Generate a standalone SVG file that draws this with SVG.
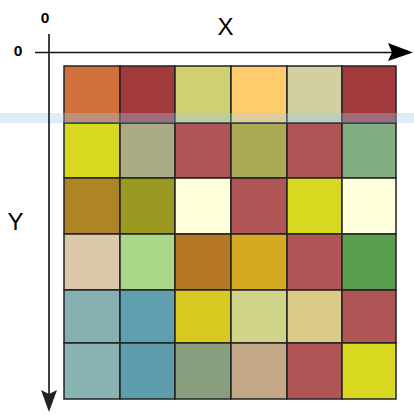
<svg xmlns="http://www.w3.org/2000/svg" width="414" height="415" viewBox="0 0 414 415">
<style>
.lbl{font-family:"Liberation Sans",Arial,sans-serif;fill:#000}
.zero{font-size:15.5px;font-weight:bold}
.axl{font-size:24px}
.axis{stroke:#111;stroke-width:1.6;fill:none}
.cell{stroke:#222;stroke-width:1.5}
</style>
<rect width="414" height="415" fill="#fff"/>
<g id="grid">
<g id="row1">
<rect class="cell" x="64" y="66" width="56" height="57" fill="#D2703C"/>
<rect class="cell" x="120" y="66" width="55" height="57" fill="#A23A3C"/>
<rect class="cell" x="175" y="66" width="56" height="57" fill="#D0D072"/>
<rect class="cell" x="231" y="66" width="56" height="57" fill="#FECC6C"/>
<rect class="cell" x="287" y="66" width="55" height="57" fill="#D2D0A2"/>
<rect class="cell" x="342" y="66" width="54" height="57" fill="#A23A3C"/>
</g>
<g id="row2">
<rect class="cell" x="64" y="123" width="56" height="55" fill="#D8D820"/>
<rect class="cell" x="120" y="123" width="55" height="55" fill="#ACAC84"/>
<rect class="cell" x="175" y="123" width="56" height="55" fill="#AF5555"/>
<rect class="cell" x="231" y="123" width="56" height="55" fill="#AAAA55"/>
<rect class="cell" x="287" y="123" width="55" height="55" fill="#AF5555"/>
<rect class="cell" x="342" y="123" width="54" height="55" fill="#82AE82"/>
</g>
<g id="row3">
<rect class="cell" x="64" y="178" width="56" height="56" fill="#AE8526"/>
<rect class="cell" x="120" y="178" width="55" height="56" fill="#9A9A22"/>
<rect class="cell" x="175" y="178" width="56" height="56" fill="#FFFFDC"/>
<rect class="cell" x="231" y="178" width="56" height="56" fill="#AF5555"/>
<rect class="cell" x="287" y="178" width="55" height="56" fill="#D8D820"/>
<rect class="cell" x="342" y="178" width="54" height="56" fill="#FFFFDC"/>
</g>
<g id="row4">
<rect class="cell" x="64" y="234" width="56" height="56" fill="#DCC8AA"/>
<rect class="cell" x="120" y="234" width="55" height="56" fill="#A8D888"/>
<rect class="cell" x="175" y="234" width="56" height="56" fill="#B47822"/>
<rect class="cell" x="231" y="234" width="56" height="56" fill="#D4AA22"/>
<rect class="cell" x="287" y="234" width="55" height="56" fill="#AF5555"/>
<rect class="cell" x="342" y="234" width="54" height="56" fill="#5A9F4E"/>
</g>
<g id="row5">
<rect class="cell" x="64" y="290" width="56" height="53" fill="#86B0B2"/>
<rect class="cell" x="120" y="290" width="55" height="53" fill="#60A0AE"/>
<rect class="cell" x="175" y="290" width="56" height="53" fill="#D8C820"/>
<rect class="cell" x="231" y="290" width="56" height="53" fill="#D0D488"/>
<rect class="cell" x="287" y="290" width="55" height="53" fill="#DCCA88"/>
<rect class="cell" x="342" y="290" width="54" height="53" fill="#AF5555"/>
</g>
<g id="row6">
<rect class="cell" x="64" y="343" width="56" height="56" fill="#88B4B4"/>
<rect class="cell" x="120" y="343" width="55" height="56" fill="#5E9EAC"/>
<rect class="cell" x="175" y="343" width="56" height="56" fill="#88A080"/>
<rect class="cell" x="231" y="343" width="56" height="56" fill="#C4A888"/>
<rect class="cell" x="287" y="343" width="55" height="56" fill="#AF5555"/>
<rect class="cell" x="342" y="343" width="54" height="56" fill="#D8D820"/>
</g>
</g>
<rect x="0" y="113" width="414" height="10" fill="#9CCBEA" opacity="0.35"/>
<g id="axes">
<line class="axis" x1="35" y1="52.5" x2="392" y2="52.5"/>
<polygon points="388,43 413,52.5 388,61 392,52.5" fill="#000"/>
<line class="axis" x1="49" y1="34" x2="49" y2="394"/>
<polygon points="41,390 49,412 57,390 49,394" fill="#222"/>
</g>
<g id="labels">
<text class="lbl zero" x="45" y="22.7" text-anchor="middle">0</text>
<text class="lbl zero" x="18" y="55.7" text-anchor="middle">0</text>
<text class="lbl axl" x="225.5" y="35" text-anchor="middle">X</text>
<text class="lbl axl" x="15.5" y="230" text-anchor="middle">Y</text>
</g>
</svg>
